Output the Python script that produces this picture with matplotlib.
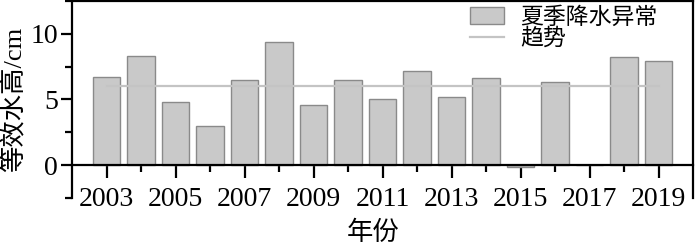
import numpy as np
import matplotlib
matplotlib.use('Agg')
import matplotlib.pyplot as plt
from matplotlib.ticker import MultipleLocator

# data
years = [2003, 2004, 2005, 2006, 2007, 2008, 2009, 2010, 2011,
         2012, 2013, 2014, 2015, 2016, 2017, 2018, 2019]
anomaly = [6.7, 8.3, 4.8, 3.0, 6.5, 9.4, 4.6, 6.5, 5.0,
           7.2, 5.2, 6.6, -0.15, 6.3, 0.0, 8.2, 7.9]
trend = [6.0] * len(years)
year_labels = [str(y) for y in range(2003, 2020, 2)]

plt.rcParams['font.family'] = ['Liberation Serif', 'Noto Sans CJK SC']
plt.rcParams['axes.unicode_minus'] = False

fig = plt.figure(figsize=(7, 2.48), dpi=100)
ax = fig.add_axes([0.103, 0.202, 0.887, 0.794])

bars = ax.bar(years, anomaly, width=0.8, color='#c9c9c9', edgecolor='#8a8a8a',
              linewidth=1.0, zorder=2)
line, = ax.plot(years, trend, color='#c4c4c4', linewidth=1.6, zorder=3)

ax.set_xlim(2002, 2020)
ax.set_ylim(-2.5, 12.5)

# bottom spine sits on the zero line
ax.spines['bottom'].set_position(('data', 0))
for side in ['left', 'right', 'top', 'bottom']:
    ax.spines[side].set_linewidth(1.6)

ax.set_xticks(range(2003, 2020, 2))
ax.set_xticklabels(year_labels)
ax.set_xticks(range(2004, 2020, 2), minor=True)
ax.set_yticks([0, 5, 10])
ax.yaxis.set_minor_locator(MultipleLocator(2.5))

ax.tick_params(axis='both', which='major', direction='out', labelsize=20,
               width=1.6, length=8, pad=2)
ax.tick_params(axis='both', which='minor', direction='out', width=1.6, length=5)
ax.tick_params(axis='x', which='major', length=9, pad=7)

ax.set_ylabel('等效水高/cm', fontsize=19)
ax.set_xlabel('年份', fontsize=19, va='top')
ax.xaxis.set_label_coords(0.485, -0.115)
ax.yaxis.set_label_coords(-0.074, 0.50)

ax.legend([bars, line], ['夏季降水异常', '趋势'], loc='upper right',
          bbox_to_anchor=(0.965, 1.04), frameon=False,
          fontsize=16.5, handlelength=1.5, handleheight=0.75, labelspacing=0.0,
          borderaxespad=0.2, handletextpad=0.7)

fig.savefig('out.png', dpi=100)
